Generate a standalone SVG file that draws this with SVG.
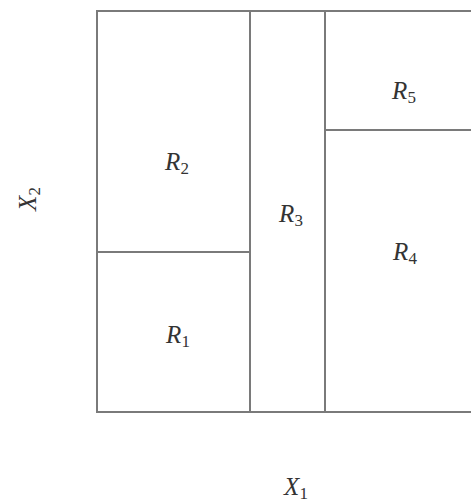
<svg xmlns="http://www.w3.org/2000/svg" width="471" height="502" viewBox="0 0 471 502">
<style>
.ln{stroke:#7a7a7a;stroke-width:2;fill:none}
.lb{font-family:"Liberation Serif","DejaVu Serif",serif;font-style:italic;font-size:25px;fill:#333;text-anchor:middle}
.sb{font-style:normal;font-size:17px}
</style>
<rect width="471" height="502" fill="#fff"/>
<g id="connectors">
<path class="ln" d="M471,11 H97 V412 H471"/>
<line class="ln" x1="250" y1="11" x2="250" y2="412"/>
<line class="ln" x1="325" y1="11" x2="325" y2="412"/>
<line class="ln" x1="97" y1="252" x2="250" y2="252"/>
<line class="ln" x1="325" y1="130" x2="471" y2="130"/>
</g>
<g id="R1"><text class="lb" x="178" y="343">R<tspan class="sb" dy="4">1</tspan></text></g>
<g id="R2"><text class="lb" x="177" y="170">R<tspan class="sb" dy="4">2</tspan></text></g>
<g id="R3"><text class="lb" x="291" y="222">R<tspan class="sb" dy="4">3</tspan></text></g>
<g id="R4"><text class="lb" x="405" y="260">R<tspan class="sb" dy="4">4</tspan></text></g>
<g id="R5"><text class="lb" x="404" y="99">R<tspan class="sb" dy="4">5</tspan></text></g>
<g id="X2"><text class="lb" transform="translate(36,199) rotate(-90)">X<tspan class="sb" dy="4">2</tspan></text></g>
<g id="X1"><text class="lb" x="296" y="495">X<tspan class="sb" dy="4">1</tspan></text></g>
</svg>
